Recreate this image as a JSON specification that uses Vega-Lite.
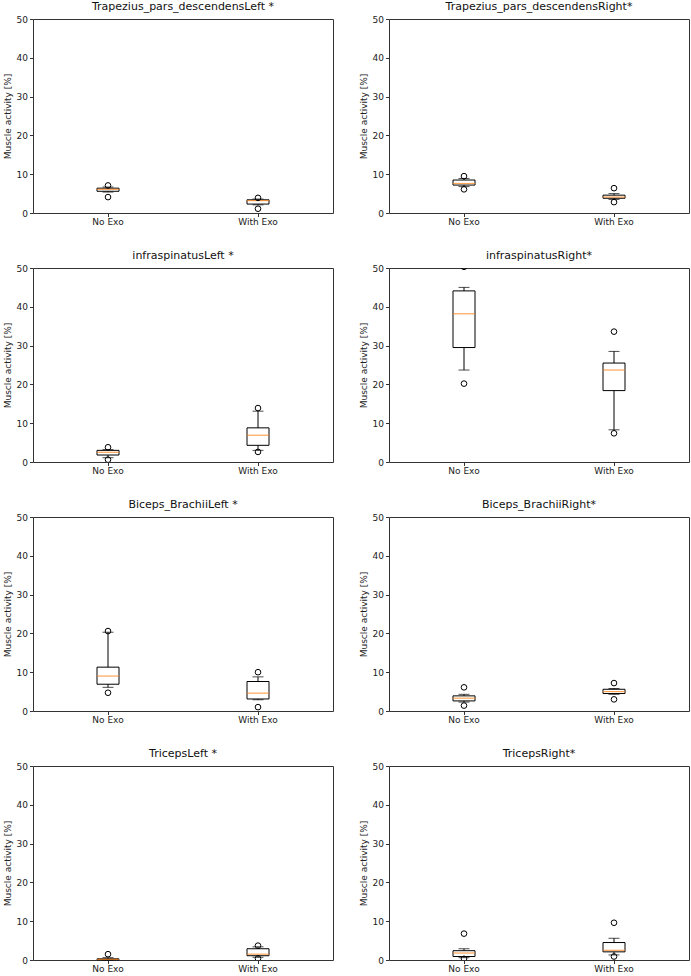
{
  "$schema": "https://vega.github.io/schema/vega-lite/v6.json",
  "padding": {"left": 2, "top": 0, "right": 2, "bottom": 0},
  "config": {
    "font": "DejaVu Sans",
    "view": {"stroke": "#333", "strokeWidth": 1},
    "axis": {"labelFont": "DejaVu Sans", "titleFont": "DejaVu Sans", "labelColor": "#222", "titleColor": "#222", "tickColor": "#333", "domainColor": "#333", "labelFontSize": 9, "titleFontSize": 9, "titleFontWeight": "normal", "grid": false, "tickSize": 3.5, "labelOverlap": false, "labelBound": false, "labelFlush": false}
  },
  "data": {"values": [
    {"muscle": "Trapezius_pars_descendensLeft *", "cond": "No Exo", "kind": "box", "lo": 5.4, "q1": 5.6, "med": 6.1, "q3": 6.4, "hi": 6.7},
    {"muscle": "Trapezius_pars_descendensLeft *", "cond": "No Exo", "kind": "out", "value": 7.1},
    {"muscle": "Trapezius_pars_descendensLeft *", "cond": "No Exo", "kind": "out", "value": 4.1},
    {"muscle": "Trapezius_pars_descendensLeft *", "cond": "With Exo", "kind": "box", "lo": 2.1, "q1": 2.3, "med": 3.2, "q3": 3.4, "hi": 3.6},
    {"muscle": "Trapezius_pars_descendensLeft *", "cond": "With Exo", "kind": "out", "value": 3.9},
    {"muscle": "Trapezius_pars_descendensLeft *", "cond": "With Exo", "kind": "out", "value": 1.1},

    {"muscle": "Trapezius_pars_descendensRight*", "cond": "No Exo", "kind": "box", "lo": 6.8, "q1": 7.2, "med": 7.6, "q3": 8.5, "hi": 8.9},
    {"muscle": "Trapezius_pars_descendensRight*", "cond": "No Exo", "kind": "out", "value": 9.5},
    {"muscle": "Trapezius_pars_descendensRight*", "cond": "No Exo", "kind": "out", "value": 6.1},
    {"muscle": "Trapezius_pars_descendensRight*", "cond": "With Exo", "kind": "box", "lo": 3.5, "q1": 3.8, "med": 4.1, "q3": 4.6, "hi": 5.0},
    {"muscle": "Trapezius_pars_descendensRight*", "cond": "With Exo", "kind": "out", "value": 6.4},
    {"muscle": "Trapezius_pars_descendensRight*", "cond": "With Exo", "kind": "out", "value": 2.8},

    {"muscle": "infraspinatusLeft *", "cond": "No Exo", "kind": "box", "lo": 1.1, "q1": 1.8, "med": 2.5, "q3": 3.0, "hi": 3.2},
    {"muscle": "infraspinatusLeft *", "cond": "No Exo", "kind": "out", "value": 3.8},
    {"muscle": "infraspinatusLeft *", "cond": "No Exo", "kind": "out", "value": 0.6},
    {"muscle": "infraspinatusLeft *", "cond": "With Exo", "kind": "box", "lo": 3.0, "q1": 4.3, "med": 6.9, "q3": 8.8, "hi": 13.1},
    {"muscle": "infraspinatusLeft *", "cond": "With Exo", "kind": "out", "value": 13.9},
    {"muscle": "infraspinatusLeft *", "cond": "With Exo", "kind": "out", "value": 2.6},

    {"muscle": "infraspinatusRight*", "cond": "No Exo", "kind": "box", "lo": 23.7, "q1": 29.5, "med": 38.2, "q3": 44.1, "hi": 45.0},
    {"muscle": "infraspinatusRight*", "cond": "No Exo", "kind": "out", "value": 20.2},
    {"muscle": "infraspinatusRight*", "cond": "No Exo", "kind": "out", "value": 50.3},
    {"muscle": "infraspinatusRight*", "cond": "With Exo", "kind": "box", "lo": 8.3, "q1": 18.4, "med": 23.7, "q3": 25.5, "hi": 28.5},
    {"muscle": "infraspinatusRight*", "cond": "With Exo", "kind": "out", "value": 33.6},
    {"muscle": "infraspinatusRight*", "cond": "With Exo", "kind": "out", "value": 7.4},

    {"muscle": "Biceps_BrachiiLeft *", "cond": "No Exo", "kind": "box", "lo": 6.1, "q1": 6.9, "med": 9.0, "q3": 11.3, "hi": 20.3},
    {"muscle": "Biceps_BrachiiLeft *", "cond": "No Exo", "kind": "out", "value": 20.6},
    {"muscle": "Biceps_BrachiiLeft *", "cond": "No Exo", "kind": "out", "value": 4.7},
    {"muscle": "Biceps_BrachiiLeft *", "cond": "With Exo", "kind": "box", "lo": 2.9, "q1": 3.1, "med": 4.6, "q3": 7.6, "hi": 8.8},
    {"muscle": "Biceps_BrachiiLeft *", "cond": "With Exo", "kind": "out", "value": 10.0},
    {"muscle": "Biceps_BrachiiLeft *", "cond": "With Exo", "kind": "out", "value": 1.0},

    {"muscle": "Biceps_BrachiiRight*", "cond": "No Exo", "kind": "box", "lo": 2.3, "q1": 2.6, "med": 3.3, "q3": 3.9, "hi": 4.3},
    {"muscle": "Biceps_BrachiiRight*", "cond": "No Exo", "kind": "out", "value": 6.1},
    {"muscle": "Biceps_BrachiiRight*", "cond": "No Exo", "kind": "out", "value": 1.4},
    {"muscle": "Biceps_BrachiiRight*", "cond": "With Exo", "kind": "box", "lo": 4.3, "q1": 4.5, "med": 5.0, "q3": 5.6, "hi": 5.8},
    {"muscle": "Biceps_BrachiiRight*", "cond": "With Exo", "kind": "out", "value": 7.2},
    {"muscle": "Biceps_BrachiiRight*", "cond": "With Exo", "kind": "out", "value": 3.0},

    {"muscle": "TricepsLeft *", "cond": "No Exo", "kind": "box", "lo": 0.0, "q1": 0.05, "med": 0.15, "q3": 0.3, "hi": 0.6},
    {"muscle": "TricepsLeft *", "cond": "No Exo", "kind": "out", "value": 1.5},
    {"muscle": "TricepsLeft *", "cond": "With Exo", "kind": "box", "lo": 0.7, "q1": 1.1, "med": 1.5, "q3": 2.9, "hi": 3.4},
    {"muscle": "TricepsLeft *", "cond": "With Exo", "kind": "out", "value": 3.7},
    {"muscle": "TricepsLeft *", "cond": "With Exo", "kind": "out", "value": 0.4},

    {"muscle": "TricepsRight*", "cond": "No Exo", "kind": "box", "lo": 0.6, "q1": 0.9, "med": 1.8, "q3": 2.4, "hi": 2.9},
    {"muscle": "TricepsRight*", "cond": "No Exo", "kind": "out", "value": 6.8},
    {"muscle": "TricepsRight*", "cond": "No Exo", "kind": "out", "value": 0.3},
    {"muscle": "TricepsRight*", "cond": "With Exo", "kind": "box", "lo": 1.3, "q1": 2.1, "med": 2.5, "q3": 4.5, "hi": 5.6},
    {"muscle": "TricepsRight*", "cond": "With Exo", "kind": "out", "value": 9.6},
    {"muscle": "TricepsRight*", "cond": "With Exo", "kind": "out", "value": 0.9}
  ]},
  "facet": {
    "field": "muscle",
    "type": "nominal",
    "sort": ["Trapezius_pars_descendensLeft *", "Trapezius_pars_descendensRight*", "infraspinatusLeft *", "infraspinatusRight*", "Biceps_BrachiiLeft *", "Biceps_BrachiiRight*", "TricepsLeft *", "TricepsRight*"],
    "header": {"title": null, "labelFont": "DejaVu Sans", "labelFontSize": 11, "labelColor": "#111", "labelPadding": 3}
  },
  "columns": 2,
  "spacing": {"row": 22, "column": 24},
  "resolve": {"axis": {"x": "independent", "y": "independent"}},
  "spec": {
    "width": 300,
    "height": 194,
    "encoding": {
      "x": {"field": "cond", "type": "nominal", "sort": ["No Exo", "With Exo"], "scale": {"paddingInner": 0, "paddingOuter": 0}, "axis": {"title": null, "labelAngle": 0, "labelFontSize": 9, "domain": false, "labelPadding": 1}}
    },
    "layer": [
      {
        "transform": [{"filter": "datum.kind === 'box'"}],
        "mark": {"type": "rule", "color": "black", "strokeWidth": 1},
        "encoding": {
          "y": {"field": "lo", "type": "quantitative", "scale": {"domain": [0, 50], "nice": false}, "axis": {"values": [0, 10, 20, 30, 40, 50], "labelOverlap": false, "tickCount": 6, "title": "Muscle activity [%]", "domain": false, "titlePadding": 4}},
          "y2": {"field": "hi"}
        }
      },
      {
        "transform": [{"filter": "datum.kind === 'box'"}],
        "mark": {"type": "tick", "color": "black", "size": 11, "thickness": 1},
        "encoding": {"y": {"field": "lo", "type": "quantitative", "axis": {"values": [0, 10, 20, 30, 40, 50], "labelOverlap": false, "tickCount": 6, "title": "Muscle activity [%]", "domain": false, "titlePadding": 4}}}
      },
      {
        "transform": [{"filter": "datum.kind === 'box'"}],
        "mark": {"type": "tick", "color": "black", "size": 11, "thickness": 1},
        "encoding": {"y": {"field": "hi", "type": "quantitative", "axis": {"values": [0, 10, 20, 30, 40, 50], "labelOverlap": false, "tickCount": 6, "title": "Muscle activity [%]", "domain": false, "titlePadding": 4}}}
      },
      {
        "transform": [{"filter": "datum.kind === 'box'"}],
        "mark": {"type": "bar", "fill": "white", "stroke": "black", "strokeWidth": 1, "size": 22},
        "encoding": {"y": {"field": "q1", "type": "quantitative", "axis": {"values": [0, 10, 20, 30, 40, 50], "labelOverlap": false, "tickCount": 6, "title": "Muscle activity [%]", "domain": false, "titlePadding": 4}}, "y2": {"field": "q3"}}
      },
      {
        "transform": [{"filter": "datum.kind === 'box'"}],
        "mark": {"type": "tick", "color": "#ff7f0e", "size": 22, "thickness": 1.2},
        "encoding": {"y": {"field": "med", "type": "quantitative", "axis": {"values": [0, 10, 20, 30, 40, 50], "labelOverlap": false, "tickCount": 6, "title": "Muscle activity [%]", "domain": false, "titlePadding": 4}}}
      },
      {
        "transform": [{"filter": "datum.kind === 'out'"}],
        "mark": {"type": "point", "shape": "circle", "filled": false, "stroke": "black", "strokeWidth": 1, "size": 32, "clip": true, "opacity": 1},
        "encoding": {"y": {"field": "value", "type": "quantitative", "axis": {"values": [0, 10, 20, 30, 40, 50], "labelOverlap": false, "tickCount": 6, "title": "Muscle activity [%]", "domain": false, "titlePadding": 4}}}
      }
    ]
  }
}
